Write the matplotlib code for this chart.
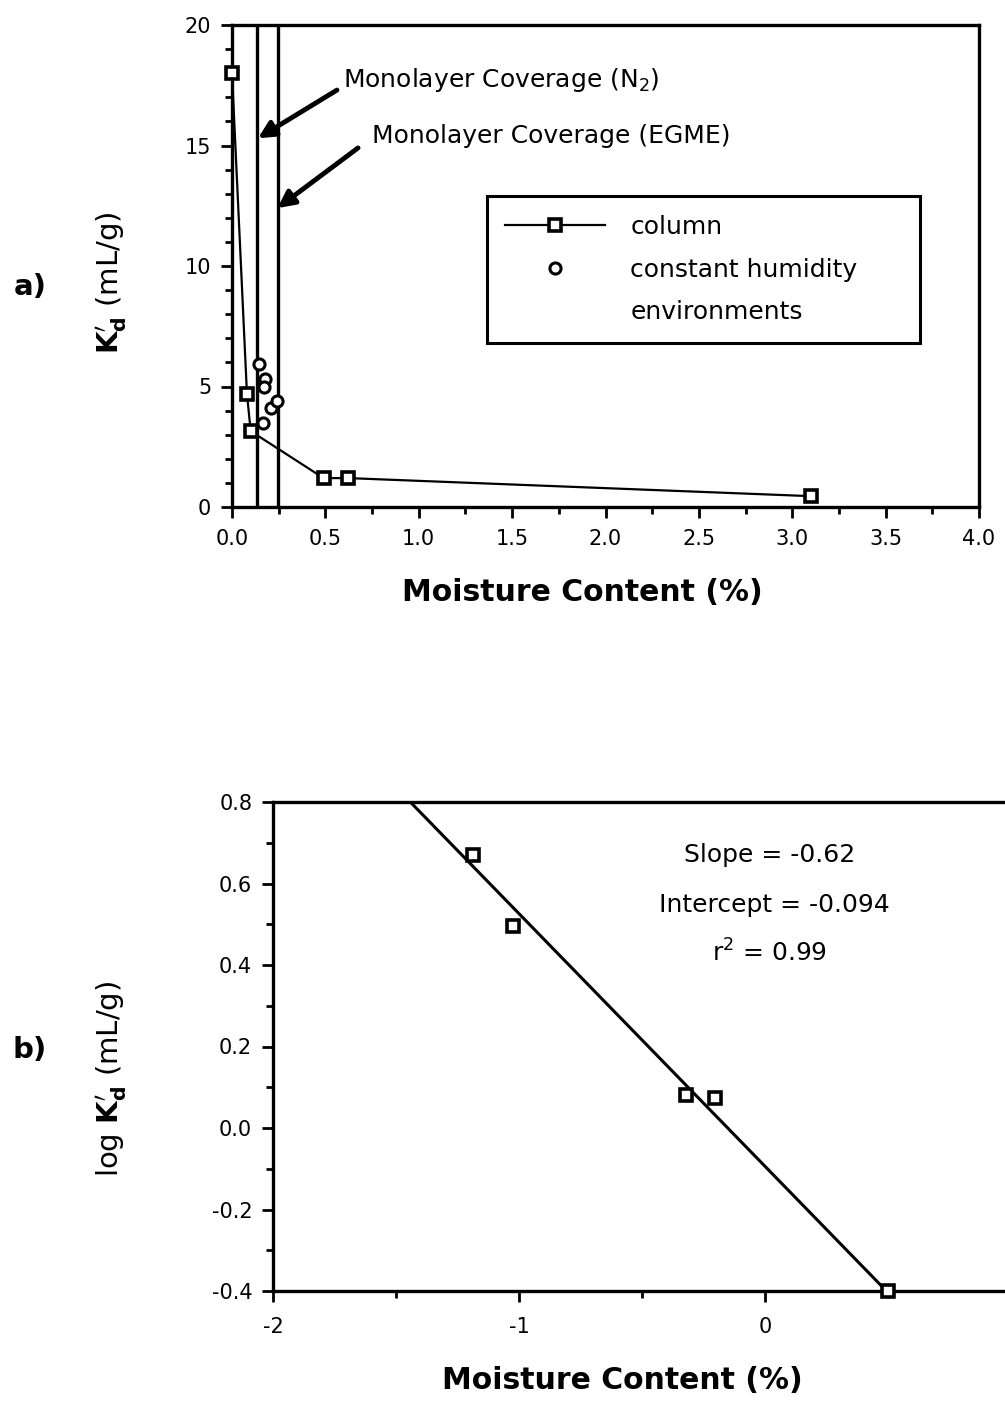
import numpy as np
import matplotlib
matplotlib.use("Agg")
import matplotlib.pyplot as plt
from matplotlib.lines import Line2D
from matplotlib.ticker import MultipleLocator, FixedLocator, FormatStrFormatter

plt.rcParams["axes.unicode_minus"] = False
plt.rcParams["font.family"] = "DejaVu Sans"

# panel a) - column data
col_moist = [0.0, 0.08, 0.10, 0.49, 0.62, 3.10]
col_kd = [18.0, 4.7, 3.15, 1.2, 1.2, 0.45]
# constant humidity environments
ch_moist = [0.145, 0.177, 0.170, 0.166, 0.209, 0.241]
ch_kd = [5.95, 5.3, 5.0, 3.5, 4.1, 4.4]
# monolayer coverage lines
mono_n2 = 0.135
mono_egme = 0.245

# panel b) - log-log
log_moist = [-1.187, -1.024, -0.32, -0.203, 0.50]
log_kd = [0.67, 0.495, 0.081, 0.074, -0.40]
slope = -0.62
intercept = -0.094
r2 = 0.99

fig = plt.figure(figsize=(10.05, 14.02), dpi=100)

sq = dict(marker="s", ms=8, mfc="white", mec="black", mew=2.6)
tickkw = dict(direction="out", width=2, colors="black")

# ---------- a) ----------
ax1 = fig.add_axes([232/1005, 1 - 507/1402, 747/1005, 482/1402])
ax1.plot(col_moist, col_kd, color="black", lw=1.6, **sq, clip_on=False, zorder=3)
ax1.plot(ch_moist, ch_kd, ls="none", marker="o", ms=8, mfc="white", mec="black", mew=2.2, zorder=3)
ax1.axvline(mono_n2, color="black", lw=2.4)
ax1.axvline(mono_egme, color="black", lw=2.4)
ax1.set_xlim(0, 4)
ax1.set_ylim(0, 20)
ax1.xaxis.set_major_locator(MultipleLocator(0.5))
ax1.xaxis.set_minor_locator(MultipleLocator(0.25))
ax1.yaxis.set_major_locator(MultipleLocator(5))
ax1.yaxis.set_minor_locator(MultipleLocator(1))
ax1.xaxis.set_major_formatter(FormatStrFormatter("%.1f"))
ax1.tick_params(which="major", length=8, labelsize=15, **tickkw)
ax1.tick_params(which="minor", length=5, **tickkw)
ax1.tick_params(axis="x", which="major", pad=8)
ax1.tick_params(axis="y", which="major", pad=7)
for s in ax1.spines.values():
    s.set_linewidth(2.4)

ax1.text(0.595, 17.7, r"Monolayer Coverage (N$_2$)", fontsize=18, va="center", ha="left")
ax1.text(0.752, 15.4, "Monolayer Coverage (EGME)", fontsize=18, va="center", ha="left")
arrow = dict(arrowstyle="-|>,head_length=1.0,head_width=0.5", color="black", lw=3.5,
             shrinkA=0, shrinkB=0)
ax1.annotate("", xy=(0.139, 15.3), xytext=(0.562, 17.3), arrowprops=arrow)
ax1.annotate("", xy=(0.243, 12.4), xytext=(0.675, 14.9), arrowprops=arrow)

handles = [
    Line2D([], [], color="black", lw=1.6, **sq),
    Line2D([], [], ls="none", marker="o", ms=8, mfc="white", mec="black", mew=2.2),
    Line2D([], [], ls="none", marker="none"),
]
leg = ax1.legend(handles, ["column", "constant humidity", "environments"],
                 loc="upper left", bbox_to_anchor=(0.341, 0.355, 0.580, 0.29), mode="expand",
                 fontsize=18, handlelength=4.0, handletextpad=1.0, borderpad=0.75,
                 labelspacing=0.75, fancybox=False, framealpha=1, edgecolor="black",
                 borderaxespad=0)
leg.get_frame().set_linewidth(2.2)

ax1.set_xlabel("Moisture Content (%)", fontsize=21.5, fontweight="bold")
ax1.xaxis.set_label_coords(0.4685, -0.148)
fig.text(112/1005, 1 - 283/1402, r"$\mathbf{K}_\mathbf{d}^{\prime}$ (mL/g)", rotation=90,
         fontsize=21, ha="center", va="center")
fig.text(30/1005, 1 - 287/1402, "a)", fontsize=21, fontweight="bold", ha="center", va="center")

# ---------- b) ----------
ax2 = fig.add_axes([273/1005, 1 - 1291/1402, 738/1005, 489/1402])
xl = np.array([-2.0, 1.0])
ax2.plot(xl, slope * xl + intercept, color="black", lw=2.2)
ax2.plot(log_moist, log_kd, ls="none", **sq, clip_on=False, zorder=3)
ax2.set_xlim(-2, 1)
ax2.set_ylim(-0.4, 0.8)
ax2.xaxis.set_major_locator(FixedLocator([-2, -1, 0]))
ax2.xaxis.set_minor_locator(MultipleLocator(0.5))
ax2.yaxis.set_major_locator(MultipleLocator(0.2))
ax2.yaxis.set_minor_locator(MultipleLocator(0.1))
ax2.xaxis.set_major_formatter(FormatStrFormatter("%d"))
ax2.yaxis.set_major_formatter(FormatStrFormatter("%.1f"))
ax2.tick_params(which="major", length=8, labelsize=15, **tickkw)
ax2.tick_params(which="minor", length=5, **tickkw)
ax2.tick_params(axis="x", which="major", pad=11)
ax2.tick_params(axis="y", which="major", pad=7)
for s in ax2.spines.values():
    s.set_linewidth(2.4)

ax2.text(0.02, 0.67, f"Slope = {slope}", fontsize=18, ha="center", va="center")
ax2.text(0.04, 0.547, f"Intercept = {intercept}", fontsize=18, ha="center", va="center")
ax2.text(0.02, 0.429, f"r$^2$ = {r2}", fontsize=18, ha="center", va="center")

ax2.set_xlabel("Moisture Content (%)", fontsize=21.5, fontweight="bold")
ax2.xaxis.set_label_coords(0.474, -0.154)
fig.text(112/1005, 1 - 1079/1402, r"log $\mathbf{K}_\mathbf{d}^{\prime}$ (mL/g)", rotation=90,
         fontsize=21, ha="center", va="center")
fig.text(30/1005, 1 - 1050/1402, "b)", fontsize=21, fontweight="bold", ha="center", va="center")

fig.savefig("out.png", dpi=100)
